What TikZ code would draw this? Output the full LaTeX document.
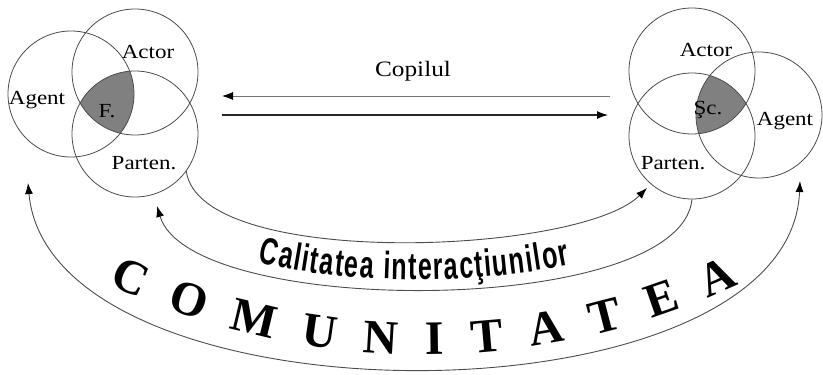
\documentclass[tikz,border=0pt]{standalone}
\usepackage{fontspec}
\setmainfont{Liberation Serif}
\newfontfamily\labelfont[FakeStretch=1.15]{Liberation Serif}
\newfontfamily\calfont[FakeStretch=0.66]{Liberation Sans}
\usetikzlibrary{arrows.meta, decorations.text}

\begin{document}
\begin{tikzpicture}[x=1pt, y=-1pt,
    ring/.style={circle, draw=black!70, line width=.8pt, minimum size=126pt, inner sep=0pt},
    core/.style={fill=black!50},
    tag/.style={font=\labelfont\fontsize{20}{20}\selectfont, inner sep=0pt},
    link/.style={draw=black!70, line width=.9pt, -{Latex[length=11pt, width=8pt, color=black]}},
    both link/.style={draw=black!70, line width=.9pt, {Latex[length=11pt, width=8pt, color=black]}-{Latex[length=11pt, width=8pt, color=black]}}]
\useasboundingbox (0,0) rectangle (823,375);

% centres of the two groups of circles
\coordinate (cAgentF) at (71,94);
\coordinate (cActorF) at (135,72);
\coordinate (cPartenF) at (135,134);
\coordinate (cActorS) at (692,71);
\coordinate (cPartenS) at (692,136);
\coordinate (cAgentS) at (759,115);

% shaded cores
\begin{scope}
    \clip (cAgentF) circle[radius=63pt];
    \clip (cActorF) circle[radius=63pt];
    \fill[core] (cPartenF) circle[radius=63pt];
\end{scope}
\begin{scope}
    \clip (cAgentS) circle[radius=63pt];
    \clip (cActorS) circle[radius=63pt];
    \fill[core] (cPartenS) circle[radius=63pt];
\end{scope}

\node[ring] (agentF) at (cAgentF) {};
\node[ring] (actorF) at (cActorF) {};
\node[ring] (partenF) at (cPartenF) {};
\node[ring] (actorS) at (cActorS) {};
\node[ring] (partenS) at (cPartenS) {};
\node[ring] (agentS) at (cAgentS) {};

\node[tag] (lActorF) at (148,52) {Actor};
\node[tag] (lAgentF) at (37,100) {Agent};
\node[tag] (lF) at (107,111) {F.};
\node[tag] (lPartenF) at (144,163) {Parten.};
\node[tag] (lActorS) at (706,50) {Actor};
\node[tag] (lS) at (708,110) {Şc.};
\node[tag] (lAgentS) at (785,121) {Agent};
\node[tag] (lPartenS) at (673,163) {Parten.};

% the child between family and school
\node[font=\labelfont\fontsize{22}{22}\selectfont, inner sep=0pt] (copil) at (413,71) {Copilul};
\coordinate (backR) at (610,96);
\coordinate (backL) at (222,96);
\coordinate (goL) at (222,115);
\coordinate (goR) at (608,115);
\draw[link, draw=black!55] (backR) -- (backL);
\draw[link, draw=black!85, line width=1.1pt] (goL) -- (goR);

% quality of interactions
\coordinate (tipS) at (647,188);
\coordinate (tipF) at (157,206);
\draw[link] (partenF.-36) .. controls (200,270) and (580,255) .. (tipS);
\draw[link] (partenS.south) .. controls (680,318) and (190,318) .. (tipF);
\path[decorate, decoration={text along path, text align=fit to path,
    text={|\calfont\bfseries\fontsize{38}{38}\selectfont|Calitatea interacţiunilor}}]
    (258,262) .. controls (355,286) and (475,284) .. (570,265);

% the community
\coordinate (comF) at (28,183);
\coordinate (comS) at (800,181);
\draw[both link] (comF) .. controls (50,430) and (790,430) .. (comS);
\path[decorate, decoration={text along path, text align=fit to path,
    text={|\bfseries\fontsize{48}{48}\selectfont|COMUNITATEA}}]
    (109,284) .. controls (308,378) and (540,378) .. (739,284);
\end{tikzpicture}
\end{document}
